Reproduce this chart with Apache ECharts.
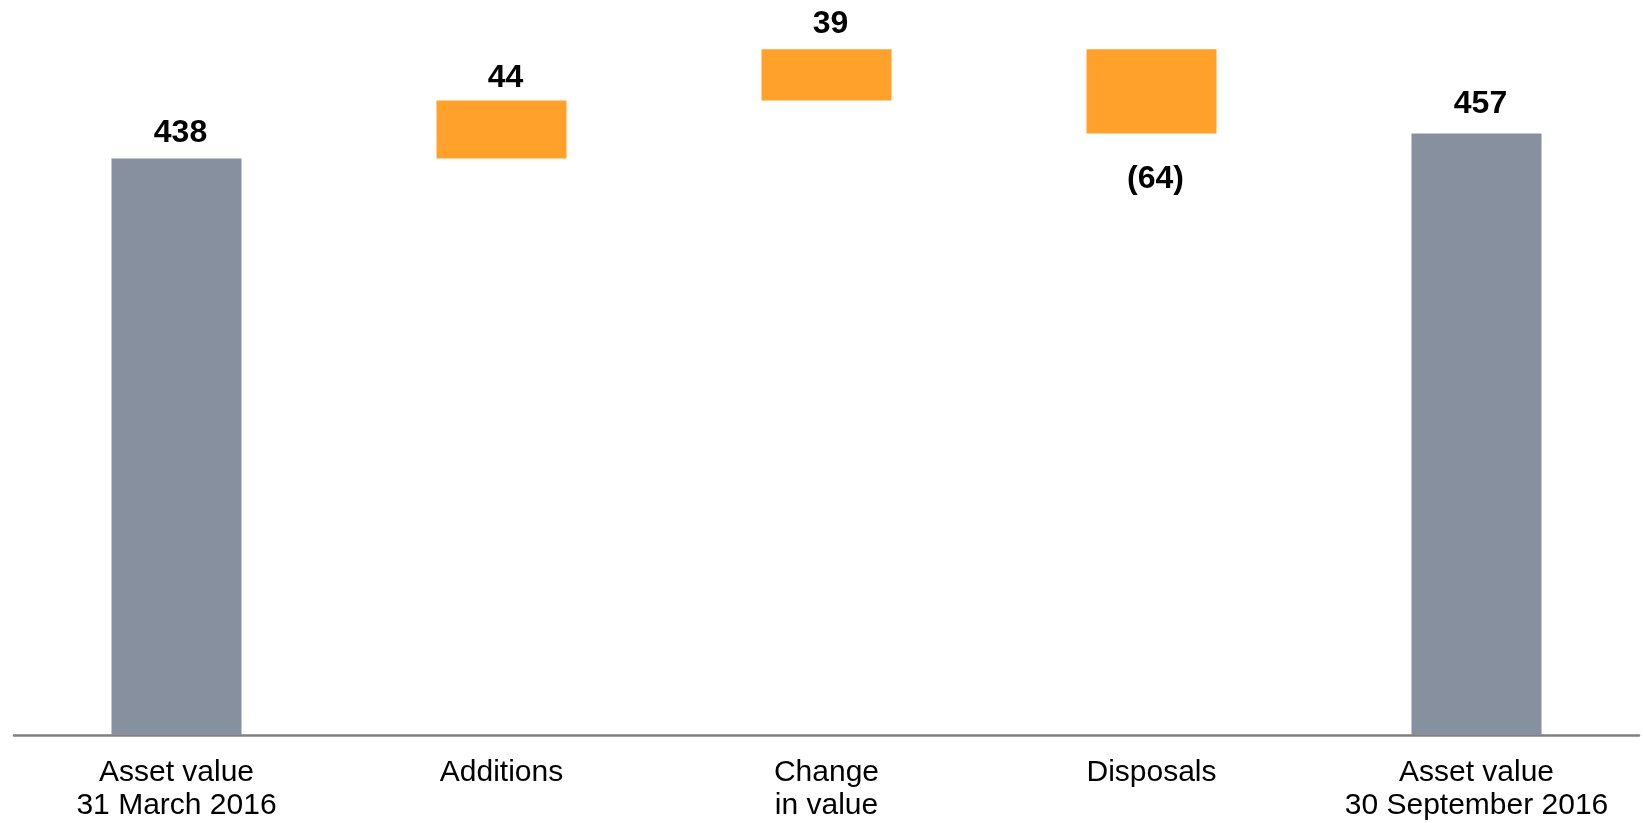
<!DOCTYPE html>
<html><head><meta charset="utf-8">
<script src="https://cdn.jsdelivr.net/npm/echarts@6/dist/echarts.min.js"></script>
<style>html,body{margin:0;padding:0;background:#fff}#c{width:1643px;height:823px}</style>
</head><body><div id="c"></div>
<script>
const categories = ['Asset value\n31 March 2016', 'Additions', 'Change\nin value', 'Disposals', 'Asset value\n30 September 2016'];
const values = [438, 44, 39, -64, 457];
const isTotal = [true, false, false, false, true];

const GREY = '#86909E';
const ORANGE = '#FFA12B';
const labelGap = [9, 6, 9, 30, 13];

// helper (invisible) base and visible heights derived from the data
const base = [], shown = [];
let running = 0;
values.forEach((v, i) => {
  if (isTotal[i]) { base.push(0); shown.push(v); running = v; }
  else if (v >= 0) { base.push(running); shown.push(v); running += v; }
  else { running += v; base.push(running); shown.push(-v); }
});

const chart = echarts.init(document.getElementById('c'));
chart.setOption({
  animation: false,
  grid: { left: 14, right: 4, top: 11, bottom: 88 },
  xAxis: {
    type: 'category', data: categories,
    axisLine: { lineStyle: { color: '#808080', width: 2.5 } },
    axisTick: { show: false },
    axisLabel: { color: '#000', fontFamily: 'Liberation Sans, Arial', fontSize: 30, lineHeight: 33, margin: 21, interval: 0 }
  },
  yAxis: { type: 'value', min: 0, max: 550, show: false, splitLine: { show: false } },
  series: [
    { type: 'bar', stack: 'w', data: base, itemStyle: { color: 'transparent' }, barWidth: '40%', silent: true },
    {
      type: 'bar', stack: 'w', barWidth: '40%',
      data: shown.map((s, i) => ({
        value: s,
        itemStyle: { color: isTotal[i] ? GREY : ORANGE },
        label: {
          show: true,
          position: values[i] < 0 ? 'bottom' : 'top',
          distance: labelGap[i],
          offset: [4, 0],
          formatter: values[i] < 0 ? '(' + (-values[i]) + ')' : String(values[i]),
          color: '#000', fontWeight: 'bold', fontSize: 32, fontFamily: 'Liberation Sans, Arial'
        }
      }))
    }
  ]
});
</script>
</body></html>
